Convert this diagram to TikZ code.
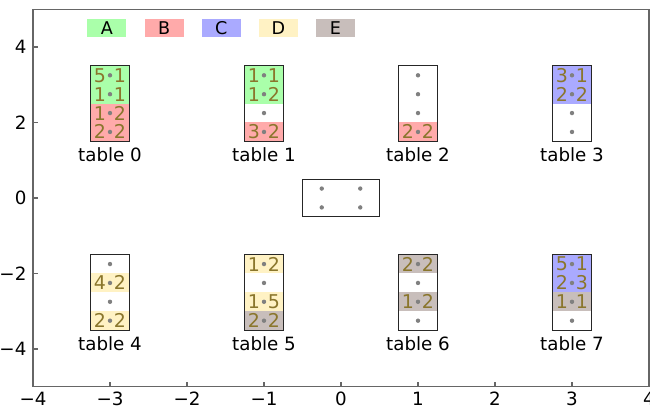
\documentclass[tikz,border=0pt]{standalone}
\usepackage{fontspec}
\setmainfont{DejaVu Sans}
\usetikzlibrary{positioning}

\definecolor{colA}{RGB}{170,255,170}
\definecolor{colB}{RGB}{255,170,170}
\definecolor{colC}{RGB}{170,170,255}
\definecolor{colD}{RGB}{255,242,196}
\definecolor{colE}{RGB}{200,190,187}
\definecolor{digit}{RGB}{138,118,44}
\definecolor{seat}{RGB}{128,128,128}

\tikzset{
  frame/.style={draw=black!60, line width=0.9pt},
  ticklab/.style={font=\fontsize{13}{15}\selectfont, inner sep=0pt},
  legbox/.style={minimum width=0.975cm, minimum height=0.45cm, inner sep=0pt, font=\fontsize{12.5}{14}\selectfont},
  tbl/.style={draw=black!85, line width=0.8pt, minimum width=0.9625cm, minimum height=1.8875cm, inner sep=0pt},
  tname/.style={font=\fontsize{13}{15}\selectfont, inner sep=1pt},
  guest/.style={text=digit, font=\fontsize{13.5}{15}\selectfont, inner sep=0pt},
}

\begin{document}
\begin{tikzpicture}[x=1.925cm, y=0.94375cm]
  \useasboundingbox (-4.4286,-5.5894) rectangle (4.013,5.245);

  % Define axes
  \draw[frame] (-4,-5) rectangle (4,5);
  \foreach \v/\t [count=\i] in {-4/−4,-3/−3,-2/−2,-1/−1,0/0,1/1,2/2,3/3,4/4} {
    \draw[frame] (\v,-5) -- ++(0,0.12);
    \node[ticklab, below=3.5pt] (xt\i) at (\v,-5) {\t};
  }
  \foreach \v/\t [count=\i] in {-4/−4,-2/−2,0/0,2/2,4/4} {
    \draw[frame] (-4,\v) -- ++(0.06,0);
    \node[ticklab, left=4.5pt] (yt\i) at (-4,\v) {\t};
  }

  % Legend
  \foreach \n [count=\i from 0] in {A,B,C,D,E}
    \node[legbox, fill=col\n] (lg\n) at ({-3.04+0.742*\i},4.5) {\n};

  % Coloured seats
  \foreach \tx/\ty/\s/\c in {-3/2.5/1/A, -3/2.5/2/A, -3/2.5/3/B, -3/2.5/4/B,
      -1/2.5/1/A, -1/2.5/2/A, -1/2.5/4/B, 1/2.5/4/B, 3/2.5/1/C, 3/2.5/2/C,
      -3/-2.5/2/D, -3/-2.5/4/D, -1/-2.5/1/D, -1/-2.5/3/D, -1/-2.5/4/E,
      1/-2.5/1/E, 1/-2.5/3/E, 3/-2.5/1/C, 3/-2.5/2/C, 3/-2.5/3/E}
    \fill[col\c] ({\tx-0.25},{\ty+1.5-0.5*\s}) rectangle ++(0.5,-0.5);

  % Tables
  \foreach \k/\tx/\ty in {0/-3/2.5, 1/-1/2.5, 2/1/2.5, 3/3/2.5,
      4/-3/-2.5, 5/-1/-2.5, 6/1/-2.5, 7/3/-2.5} {
    \node[tbl] (t\k) at (\tx,\ty) {};
    \node[tname, below=3pt of t\k] (n\k) {table \k};
    \foreach \s in {1,...,4}
      \fill[seat] (\tx,{\ty+1.25-0.5*\s}) circle (0.055cm);
  }
  \node[tbl, minimum width=1.925cm, minimum height=0.94375cm] (hub) at (0,0) {};
  \foreach \dx/\dy in {-0.25/0.25, 0.25/0.25, -0.25/-0.25, 0.25/-0.25}
    \fill[seat] (\dx,\dy) circle (0.055cm);

  % Guests
  \foreach \tx/\ty/\s/\a/\b [count=\i] in {-3/2.5/1/5/1, -3/2.5/2/1/1, -3/2.5/3/1/2, -3/2.5/4/2/2,
      -1/2.5/1/1/1, -1/2.5/2/1/2, -1/2.5/4/3/2, 1/2.5/4/2/2, 3/2.5/1/3/1, 3/2.5/2/2/2,
      -3/-2.5/2/4/2, -3/-2.5/4/2/2, -1/-2.5/1/1/2, -1/-2.5/3/1/5, -1/-2.5/4/2/2,
      1/-2.5/1/2/2, 1/-2.5/3/1/2, 3/-2.5/1/5/1, 3/-2.5/2/2/3, 3/-2.5/3/1/1}
    \node[guest] (g\i) at (\tx,{\ty+1.25-0.5*\s}) {\a\hspace{0.42em}\b};
\end{tikzpicture}
\end{document}
